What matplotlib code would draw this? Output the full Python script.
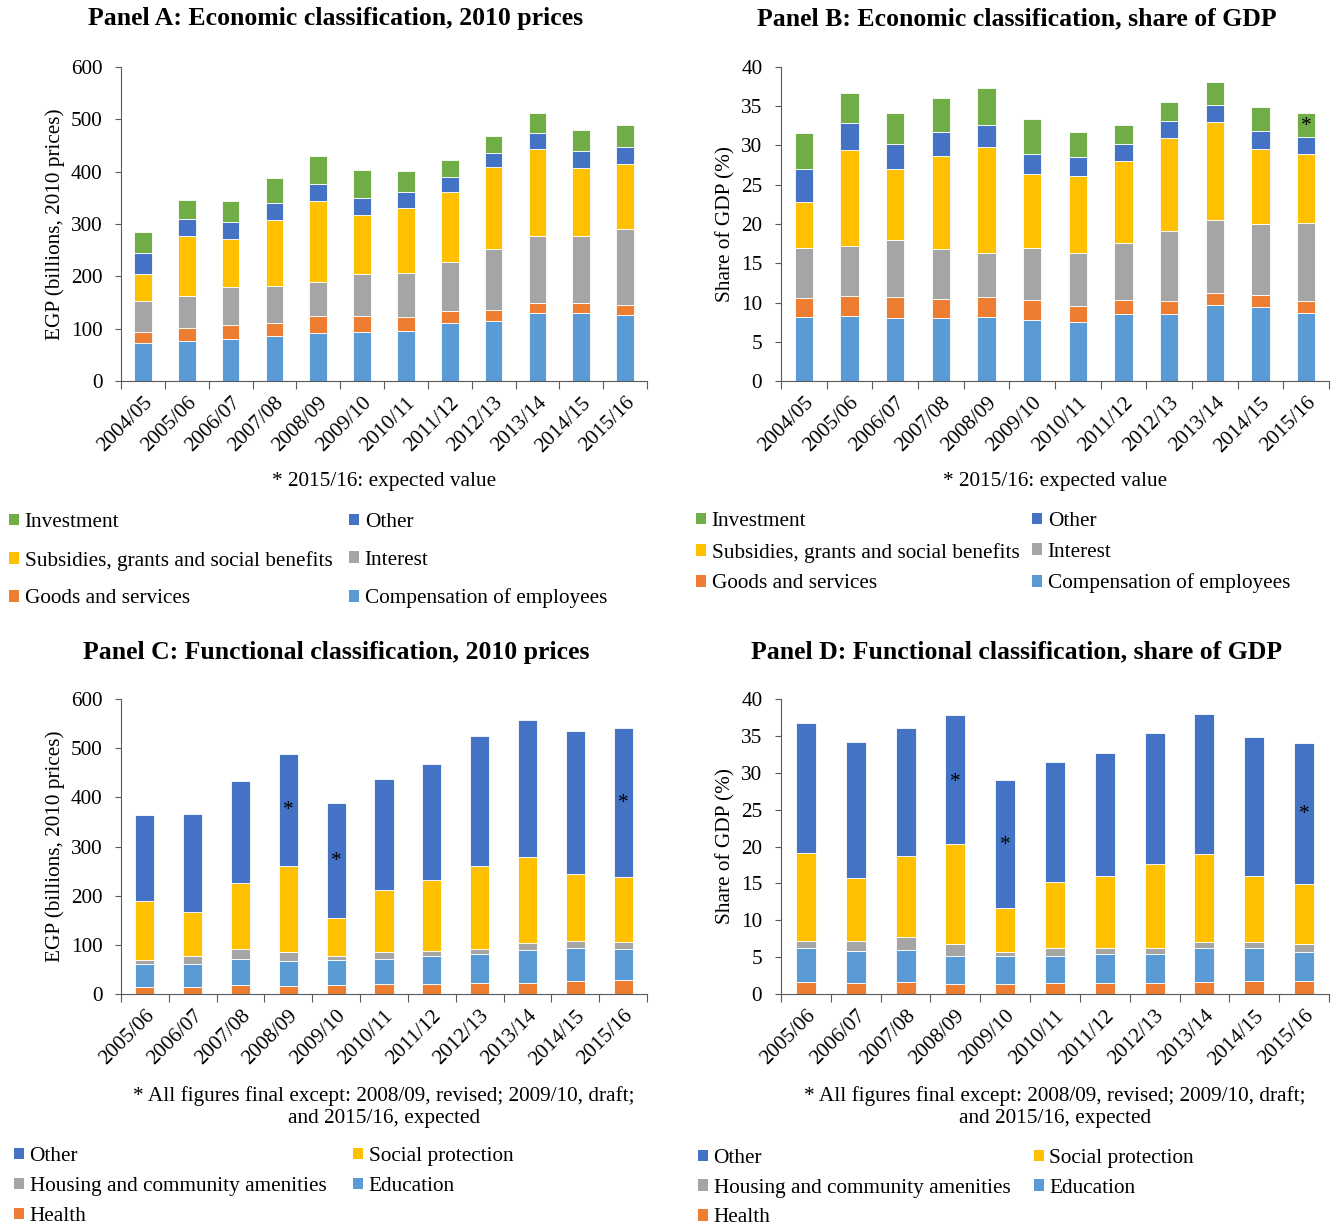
import matplotlib.pyplot as plt
from matplotlib.patches import Patch

plt.rcParams['font.family'] = ['Liberation Serif', 'DejaVu Serif']

# --- data ---
years_ab = ['2004/05', '2005/06', '2006/07', '2007/08', '2008/09', '2009/10',
            '2010/11', '2011/12', '2012/13', '2013/14', '2014/15', '2015/16']
years_cd = years_ab[1:]

# Panel A: economic classification, billions EGP, 2010 prices
a_comp = [72.5, 77, 79.5, 86.5, 92.3, 93.5, 96.1, 110.1, 113.9, 130.4, 129.2, 125.3]
a_goods = [21.7, 24.8, 26.8, 24.8, 31.1, 31.2, 26.1, 23.5, 21.6, 19.1, 19.7, 20.4]
a_interest = [58.5, 61.1, 73.8, 69.4, 64.9, 78.9, 84.6, 94.2, 115.8, 127.9, 128.5, 144.4]
a_subsidies = [52.2, 113.9, 90.9, 127.3, 155.3, 113.9, 124.1, 134.2, 157.8, 166.7, 129.8, 125.4]
a_other = [38.8, 33.1, 32.5, 32.4, 33.1, 32.4, 30.5, 28, 26.7, 30.5, 33.1, 31.8]
a_invest = [40.7, 35.6, 40.1, 47.1, 53.4, 52.8, 40.7, 31.8, 32.5, 38.2, 40.1, 42]

# Panel B: economic classification, % of GDP
b_comp = [8.1, 8.23, 8.06, 7.97, 8.1, 7.8, 7.55, 8.48, 8.57, 9.63, 9.37, 8.7]
b_goods = [2.5, 2.54, 2.59, 2.42, 2.59, 2.55, 2.04, 1.87, 1.65, 1.53, 1.53, 1.44]
b_interest = [6.37, 6.45, 7.29, 6.41, 5.64, 6.57, 6.74, 7.25, 8.87, 9.33, 9.16, 10.05]
b_subsidies = [5.89, 12.26, 9.04, 11.83, 13.49, 9.42, 9.76, 10.44, 11.92, 12.47, 9.51, 8.74]
b_other = [4.16, 3.44, 3.22, 3.06, 2.84, 2.59, 2.41, 2.16, 2.08, 2.25, 2.33, 2.2]
b_invest = [4.62, 3.77, 3.99, 4.32, 4.67, 4.45, 3.19, 2.46, 2.41, 2.84, 3.01, 2.97]

# Panel C: functional classification, billions EGP, 2010 prices
c_health = [14.9, 14.9, 18.3, 16.3, 17.7, 20.4, 20.4, 22.4, 22.4, 26.5, 27.9]
c_edu = [45.6, 46.3, 53, 50.3, 50.9, 51.6, 57.1, 58.5, 66.6, 66.6, 63.8]
c_housing = [9.5, 15.6, 20.4, 19, 8.2, 14.3, 10.8, 10.1, 14.3, 14.3, 15]
c_social = [118.9, 90.4, 133.9, 174.6, 77.4, 125, 142.7, 169.2, 174.6, 137.2, 131.1]
c_other = [176, 199.7, 208.6, 227.7, 234.5, 227, 237.8, 265, 279.3, 290.2, 303.7]

# Panel D: functional classification, % of GDP
d_health = [1.63, 1.54, 1.59, 1.36, 1.36, 1.54, 1.54, 1.54, 1.63, 1.77, 1.81]
d_edu = [4.54, 4.31, 4.31, 3.86, 3.81, 3.68, 3.9, 3.95, 4.54, 4.4, 3.95]
d_housing = [1.04, 1.36, 1.77, 1.5, 0.59, 1.04, 0.73, 0.73, 0.91, 0.86, 1.0]
d_social = [11.85, 8.49, 11.02, 13.56, 5.86, 8.94, 9.89, 11.43, 11.93, 8.94, 8.17]
d_other = [17.65, 18.47, 17.34, 17.61, 17.46, 16.29, 16.56, 17.79, 19.01, 18.88, 19.1]

# asterisk markers: (year, y position)
b_stars = [('2015/16', 33.0)]
c_stars = [('2008/09', 381), ('2009/10', 277), ('2015/16', 395)]
d_stars = [('2008/09', 29.3), ('2009/10', 20.7), ('2015/16', 24.9)]

COMP, GOODS, INTEREST = '#5B9BD5', '#ED7D31', '#A5A5A5'
SUBS, OTHER, INVEST = '#FFC000', '#4472C4', '#70AD47'

econ_labels = ['Compensation of employees', 'Goods and services', 'Interest',
               'Subsidies, grants and social benefits', 'Other', 'Investment']
econ_colors = [COMP, GOODS, INTEREST, SUBS, OTHER, INVEST]
func_labels = ['Health', 'Education', 'Housing and community amenities',
               'Social protection', 'Other']
func_colors = [GOODS, COMP, INTEREST, SUBS, OTHER]

FS = 15.3


def stacked(ax, years, series, colors, ymax, ystep, ylabel, stars):
    x = list(range(len(years)))
    bottom = [0] * len(years)
    for vals, col in zip(series, colors):
        ax.bar(x, vals, width=0.4, bottom=bottom, color=col,
               edgecolor='white', linewidth=0.6)
        bottom = [b + v for b, v in zip(bottom, vals)]
    # the Times asterisk sits high in its box, nudge it down a little
    for yr, yv in stars:
        ax.annotate('*', (years.index(yr), yv), xytext=(0, -3), textcoords='offset points',
                    ha='center', va='center', fontsize=FS)
    ax.set_xlim(-0.5, len(years) - 0.5)
    ax.set_ylim(0, ymax)
    ax.set_yticks(range(0, ymax + 1, ystep))
    ax.set_xticks(x)
    ax.set_xticklabels(years, rotation=45, ha='right', rotation_mode='anchor')
    ax.set_xticks([i - 0.5 for i in range(len(years) + 1)], minor=True)
    ax.tick_params(axis='x', which='major', length=0, pad=9, labelsize=FS)
    ax.tick_params(axis='x', which='minor', length=6, width=0.8, color='#595959')
    ax.tick_params(axis='y', length=4.5, width=0.8, color='#595959', labelsize=FS, pad=9)
    for s in ['top', 'right']:
        ax.spines[s].set_visible(False)
    for s in ['left', 'bottom']:
        ax.spines[s].set_color('#595959')
        ax.spines[s].set_linewidth(0.8)
    ax.set_ylabel(ylabel, fontsize=FS, labelpad=4)


def legend(fig, labels, colors, order, x, y, spacing, colspace):
    handles = [Patch(facecolor=colors[labels.index(l)], edgecolor='none') for l in order]
    fig.legend(handles, order, loc='upper left', bbox_to_anchor=(x, y), ncol=2,
               frameon=False, fontsize=FS, handlelength=0.48, handleheight=0.48,
               handletextpad=0.25, columnspacing=colspace, labelspacing=spacing,
               borderaxespad=0, borderpad=0)


fig = plt.figure(figsize=(13.32, 12.28), dpi=100)
W, H = 1332, 1228

axA = fig.add_axes([121 / W, 1 - 381 / H, 526 / W, 314 / H])
axB = fig.add_axes([781 / W, 1 - 381 / H, 548 / W, 314 / H])
axC = fig.add_axes([121 / W, 1 - 994 / H, 526 / W, 295 / H])
axD = fig.add_axes([781 / W, 1 - 994 / H, 548 / W, 295 / H])

stacked(axA, years_ab, [a_comp, a_goods, a_interest, a_subsidies, a_other, a_invest],
        econ_colors, 600, 100, 'EGP (billions, 2010 prices)', [])
stacked(axB, years_ab, [b_comp, b_goods, b_interest, b_subsidies, b_other, b_invest],
        econ_colors, 40, 5, 'Share of GDP (%)', b_stars)
stacked(axC, years_cd, [c_health, c_edu, c_housing, c_social, c_other],
        func_colors, 600, 100, 'EGP (billions, 2010 prices)', c_stars)
stacked(axD, years_cd, [d_health, d_edu, d_housing, d_social, d_other],
        func_colors, 40, 5, 'Share of GDP (%)', d_stars)

# titles
title_kw = dict(ha='center', va='center', fontsize=18.5, fontweight='bold')
fig.text(336 / W, 1 - 19 / H, 'Panel A: Economic classification, 2010 prices', **title_kw)
fig.text(1017 / W, 1 - 19 / H, 'Panel B: Economic classification, share of GDP', **title_kw)
fig.text(336 / W, 1 - 652 / H, 'Panel C: Functional classification, 2010 prices', **title_kw)
fig.text(1017 / W, 1 - 652 / H, 'Panel D: Functional classification, share of GDP', **title_kw)

# footnotes
fig.text(384 / W, 1 - 481 / H, '* 2015/16: expected value', ha='center', va='center', fontsize=FS)
fig.text(1055 / W, 1 - 481 / H, '* 2015/16: expected value', ha='center', va='center', fontsize=FS)
note = '* All figures final except: 2008/09, revised; 2009/10, draft;\nand 2015/16, expected'
fig.text(384 / W, 1 - 1107 / H, note, ha='center', va='center', fontsize=FS, linespacing=1.2)
fig.text(1055 / W, 1 - 1107 / H, note, ha='center', va='center', fontsize=FS, linespacing=1.2)

# legends (column-first order so rows read like the reference)
econ_order = ['Investment', 'Subsidies, grants and social benefits', 'Goods and services',
              'Other', 'Interest', 'Compensation of employees']
func_order = ['Other', 'Housing and community amenities', 'Health',
              'Social protection', 'Education']
legend(fig, econ_labels, econ_colors, econ_order, 9 / W, 1 - 513 / H, 0.88, 0.8)
legend(fig, econ_labels, econ_colors, econ_order, 696 / W, 1 - 512 / H, 0.55, 0.61)
legend(fig, func_labels, func_colors, func_order, 14 / W, 1 - 1147 / H, 0.52, 1.27)
legend(fig, func_labels, func_colors, func_order, 698 / W, 1 - 1149 / H, 0.50, 1.1)

fig.savefig('out.png', dpi=100)
